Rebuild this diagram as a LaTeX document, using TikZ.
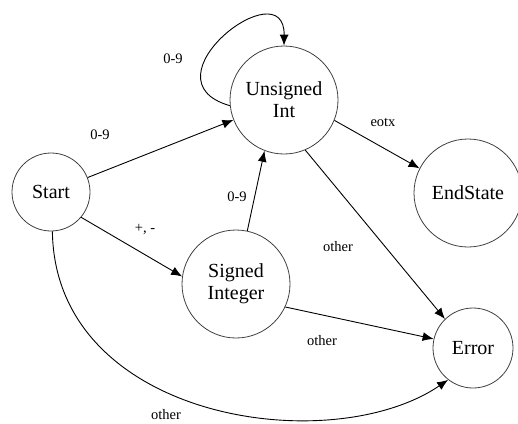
\documentclass[tikz,border=0pt]{standalone}
\usepackage{fontspec}
\setmainfont{Liberation Serif}
\usetikzlibrary{arrows.meta}

\begin{document}
\begin{tikzpicture}[x=1pt, y=-1pt,
    state/.style={circle, draw=black!75, line width=0.8pt, inner sep=0pt, align=center,
                  font=\fontsize{20}{22}\selectfont},
    lbl/.style={font=\fontsize{14.5}{16}\selectfont, inner sep=0pt},
    edge/.style={line width=0.9pt, -{Latex[length=11pt, width=9pt]}}]
    \useasboundingbox (0, 0) rectangle (518, 423);

    \node (start) at (51, 192) [state, minimum size=78pt] {Start};
    \node (uint) at (284, 100) [state, minimum size=108pt] {Unsigned\\Int};
    \node (sint) at (236, 284) [state, minimum size=108pt] {Signed\\Integer};
    \node (end) at (468, 193) [state, minimum size=108pt] {EndState};
    \node (err) at (473, 348) [state, minimum size=80pt] {Error};

    \draw[edge] (start) -- (uint);
    \draw[edge] (start.-40) -- (sint.172);
    \draw[edge] (sint.78) -- (uint.-111);
    \draw[edge] (uint.186) .. controls (140, 80) and (285, -32) .. (uint.90);
    \draw[edge] (uint.-22) -- (end.153);
    \draw[edge] (uint.-67) -- (err.134);
    \draw[edge] (sint.-25) -- (err.167);
    \draw[edge] (start.-88) .. controls (55, 420) and (330, 460) .. (err.232);

    \node (l1) at (100, 135) [lbl] {0-9};
    \node (l2) at (145, 230) [lbl] {+, -};
    \node (l3) at (237, 197) [lbl] {0-9};
    \node (l4) at (173, 59) [lbl] {0-9};
    \node (l5) at (383, 122) [lbl] {eotx};
    \node (l6) at (338, 247) [lbl] {other};
    \node (l7) at (322, 341) [lbl] {other};
    \node (l8) at (166, 415) [lbl] {other};
\end{tikzpicture}
\end{document}
